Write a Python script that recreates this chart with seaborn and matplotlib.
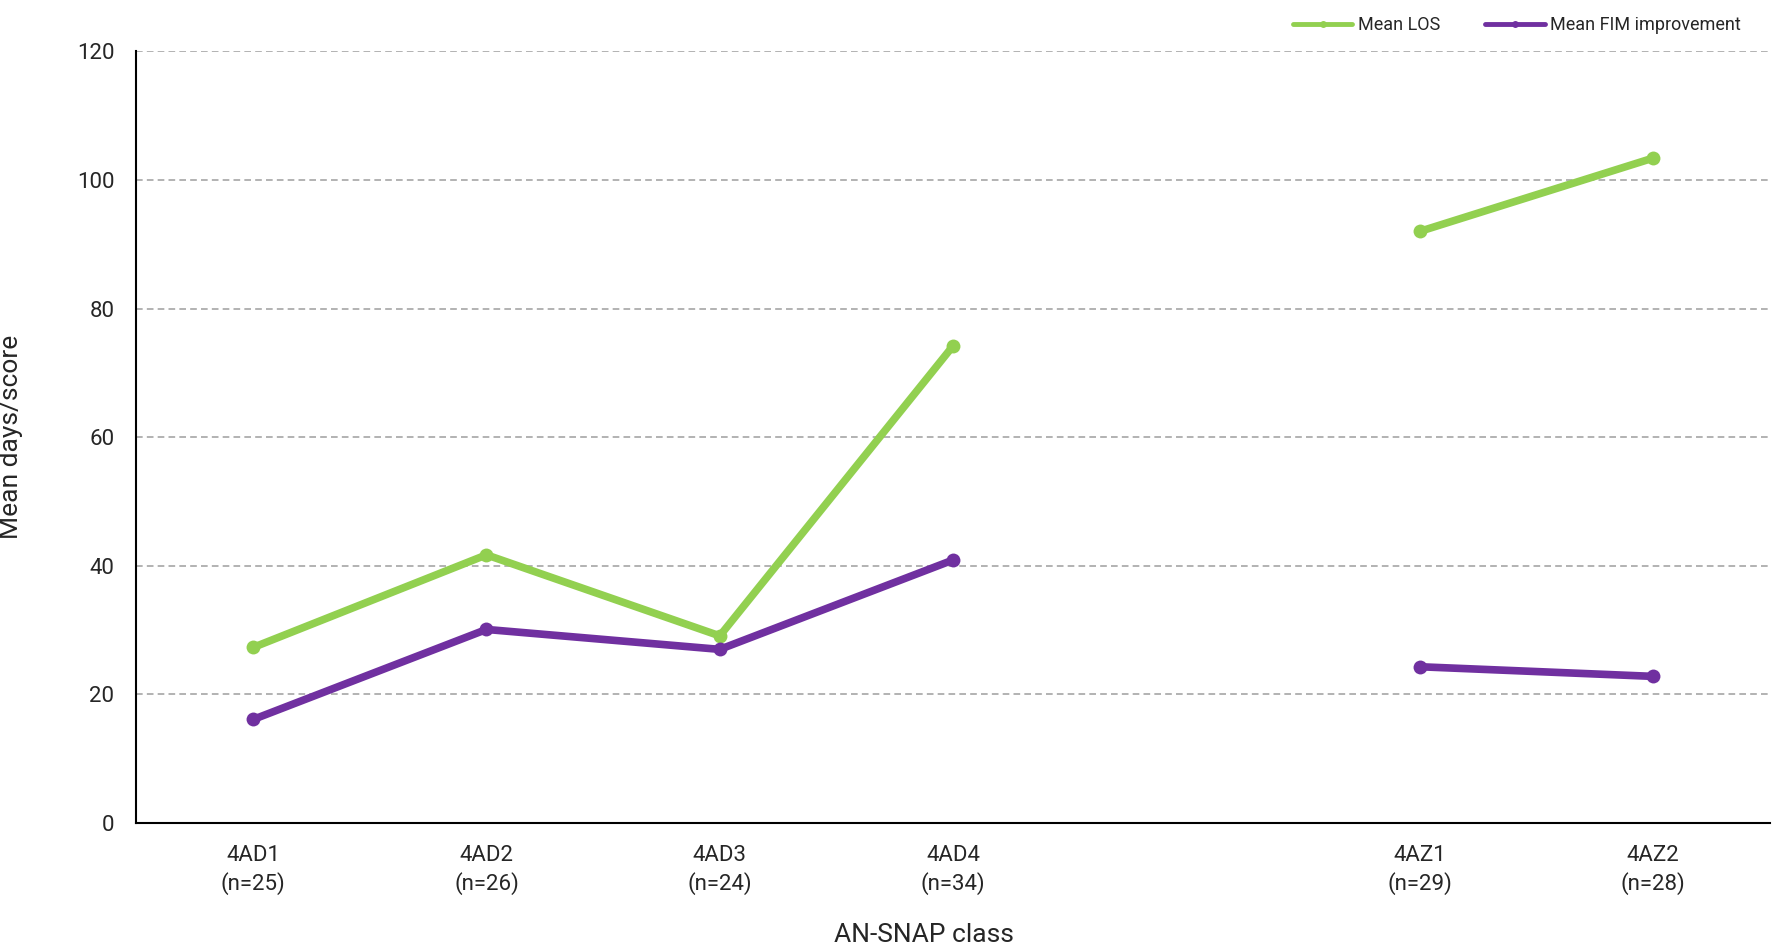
import pandas as pd
import numpy as np
import matplotlib
matplotlib.use("Agg")
import matplotlib.pyplot as plt
import seaborn as sns

# =========================================
# DATA
# =========================================

classes = ["4AD1", "4AD2", "4AD3", "4AD4", "", "4AZ1", "4AZ2"]
counts = ["25", "26", "24", "34", "", "29", "28"]
groups = ["AD", "AD", "AD", "AD", "", "AZ", "AZ"]

mean_los = [27.3, 41.7, 29.1, 74.2, np.nan, 92.0, 103.4]
mean_fim = [16.1, 30.1, 27.0, 40.9, np.nan, 24.3, 22.8]

tick_labels = [f"{c}\n(n={n})" if c else "" for c, n in zip(classes, counts)]

rows = []
for i, g in enumerate(groups):
    if not g:
        continue
    rows.append({"pos": i, "value": mean_los[i], "series": "Mean LOS", "group": g})
    rows.append({"pos": i, "value": mean_fim[i], "series": "Mean FIM improvement", "group": g})
df = pd.DataFrame(rows)

# =========================================
# STYLE
# =========================================

sns.set_style("white")
plt.rcParams["font.family"] = ["Liberation Sans Narrow", "Roboto", "DejaVu Sans"]

palette = {"Mean LOS": "#92d050", "Mean FIM improvement": "#7030a0"}

# =========================================
# PLOT
# =========================================

fig = plt.figure(figsize=(17.84, 9.51), dpi=100)
ax = fig.add_axes([0.0765, 0.1346, 0.9155, 0.8114])

sns.lineplot(
    data=df, x="pos", y="value", hue="series", units="group",
    estimator=None, palette=palette, marker="o", markersize=10,
    markeredgewidth=0, linewidth=5.5, ax=ax, legend=True, zorder=3
)

ax.set_xlim(-0.5, 6.5)
ax.set_ylim(0, 120)
ax.set_yticks(range(0, 121, 20))
ax.set_xticks(range(len(classes)))
ax.set_xticklabels(tick_labels, fontsize=16, linespacing=1.35)
ax.tick_params(axis="y", labelsize=16, length=0, pad=16)
ax.tick_params(axis="x", length=0, pad=16)

for y in range(20, 121, 20):
    ax.axhline(y, color="#a6a6a6", linestyle=(0, (4, 2.5)), linewidth=1.2, zorder=1)

for side in ["top", "right"]:
    ax.spines[side].set_visible(False)
for side in ["left", "bottom"]:
    ax.spines[side].set_color("black")
    ax.spines[side].set_linewidth(1.5)

ax.set_xlabel("AN-SNAP class", fontsize=19)
ax.set_ylabel("Mean days/score", fontsize=19)
ax.xaxis.set_label_coords(0.482, -0.130)
ax.yaxis.set_label_coords(-0.0696, 0.5)

handles, labels = ax.get_legend_handles_labels()
ax.get_legend().remove()
for h in handles:
    h.set_linewidth(3.5)
    h.set_markersize(5)
fig.legend(
    handles, labels, loc="upper right", bbox_to_anchor=(0.985, 1.0),
    ncol=2, frameon=False, fontsize=13, handlelength=3.3,
    handletextpad=0.3, columnspacing=2.5
)

plt.savefig("out.png", dpi=100)
